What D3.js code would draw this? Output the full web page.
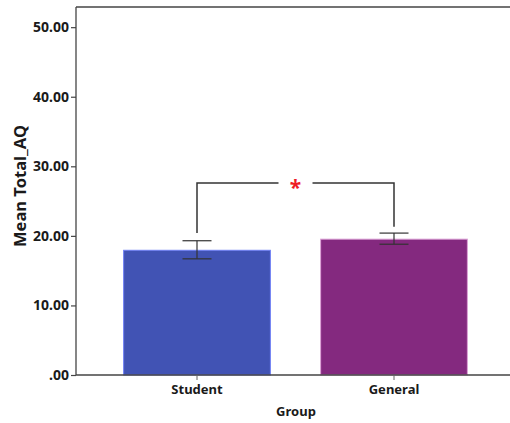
<!DOCTYPE html>
<html>
<head>
<meta charset="utf-8">
<script src="https://cdn.jsdelivr.net/npm/d3@7"></script>
<style>
  html, body { margin: 0; padding: 0; background: #fff; }
  svg { display: block; }
  text { font-family: "Noto Sans", "DejaVu Sans", sans-serif; fill: #1a1a1a; }
</style>
</head>
<body>
<svg id="chart" width="510" height="423"></svg>
<script>
// Group means of Total_AQ with error-bar half widths
const groups = ["Student", "General"];
const means = [18.0, 19.6];
const errors = [1.3, 0.8];
const barFills = ["#4153b4", "#84297f"];
const barStrokes = ["#6f80f5", "#dca2d6"];

// Y-axis tick values and their labels
const yTicks = [0, 10, 20, 30, 40, 50];
const yTickLabels = [".00", "10.00", "20.00", "30.00", "40.00", "50.00"];

// Significance bracket between the two groups
const bracketLevel = 27.6;
const bracketFeet = [20.4, 21.3];
const significanceMark = "*";

const svg = d3.select("#chart");
const plotLeft = 76, plotRight = 510, plotTop = 7, plotBottom = 375;

const y = d3.scaleLinear().domain([0, 52.9]).range([plotBottom, plotTop]);
const x = d3.scaleBand()
  .domain(groups)
  .range([98.5, 492.5])
  .paddingInner(0.25)
  .paddingOuter(0.125);

// Frame: top edge of the plot area
svg.append("line")
  .attr("x1", plotLeft).attr("x2", plotRight)
  .attr("y1", plotTop).attr("y2", plotTop)
  .attr("stroke", "#444").attr("stroke-width", 1.3);

// Bars
svg.selectAll("rect.bar")
  .data(groups)
  .join("rect")
  .attr("class", "bar")
  .attr("x", d => x(d) + 0.5)
  .attr("y", (d, i) => y(means[i]) + 0.5)
  .attr("width", x.bandwidth() - 1)
  .attr("height", (d, i) => y(0) - y(means[i]) - 0.5)
  .attr("fill", (d, i) => barFills[i])
  .attr("stroke", (d, i) => barStrokes[i])
  .attr("stroke-width", 1);

// Error bars
const capHalf = 14.5;
const eb = svg.selectAll("g.err")
  .data(groups)
  .join("g")
  .attr("class", "err")
  .attr("stroke", "#333")
  .attr("stroke-width", 1.2);
eb.append("line")
  .attr("x1", d => x(d) + x.bandwidth() / 2)
  .attr("x2", d => x(d) + x.bandwidth() / 2)
  .attr("y1", (d, i) => y(means[i] + errors[i]))
  .attr("y2", (d, i) => y(means[i] - errors[i]));
eb.append("line")
  .attr("x1", d => x(d) + x.bandwidth() / 2 - capHalf)
  .attr("x2", d => x(d) + x.bandwidth() / 2 + capHalf)
  .attr("y1", (d, i) => y(means[i] + errors[i]))
  .attr("y2", (d, i) => y(means[i] + errors[i]));
eb.append("line")
  .attr("x1", d => x(d) + x.bandwidth() / 2 - capHalf)
  .attr("x2", d => x(d) + x.bandwidth() / 2 + capHalf)
  .attr("y1", (d, i) => y(means[i] - errors[i]))
  .attr("y2", (d, i) => y(means[i] - errors[i]));

// Y axis
const yAxis = d3.axisLeft(y)
  .tickValues(yTicks)
  .tickFormat((d, i) => yTickLabels[i])
  .tickSize(5)
  .tickPadding(2);
const gy = svg.append("g")
  .attr("transform", `translate(${plotLeft},0)`)
  .call(yAxis);
gy.select(".domain").attr("d", `M0,${plotTop}V${plotBottom}`).attr("stroke", "#444").attr("stroke-width", 1.3);
gy.selectAll(".tick line").attr("stroke", "#444").attr("stroke-width", 1.2);
gy.selectAll(".tick text")
  .attr("font-family", "'Noto Sans', sans-serif")
  .attr("font-size", "14px")
  .attr("font-weight", "bold")
  .attr("fill", "#1a1a1a");

// X axis
const xAxis = d3.axisBottom(x).tickSize(5).tickPadding(5);
const gx = svg.append("g")
  .attr("transform", `translate(0,${plotBottom})`)
  .call(xAxis);
gx.select(".domain").attr("d", `M${plotLeft},0H${plotRight}`).attr("stroke", "#444").attr("stroke-width", 1.3);
gx.selectAll(".tick line").attr("stroke", "#666").attr("stroke-width", 1);
gx.selectAll(".tick text")
  .attr("font-family", "'Noto Sans', sans-serif")
  .attr("font-size", "13px")
  .attr("font-weight", "bold")
  .attr("fill", "#1a1a1a");

// Axis titles
svg.append("text")
  .attr("x", 296).attr("y", 416)
  .attr("text-anchor", "middle")
  .attr("font-size", "13px")
  .attr("font-weight", "bold")
  .text("Group");

svg.append("text")
  .attr("transform", "translate(26,186) rotate(-90)")
  .attr("text-anchor", "middle")
  .attr("font-size", "16.5px")
  .attr("font-weight", "bold")
  .text("Mean Total_AQ");

// Significance bracket
const cx = groups.map(g => x(g) + x.bandwidth() / 2);
const mid = (cx[0] + cx[1]) / 2;
const gap = 17;
const br = svg.append("g")
  .attr("fill", "none")
  .attr("stroke", "#333")
  .attr("stroke-width", 1.5);
br.append("path")
  .attr("d", `M${cx[0]},${y(bracketFeet[0])}V${y(bracketLevel)}H${mid - gap}`);
br.append("path")
  .attr("d", `M${mid + gap},${y(bracketLevel)}H${cx[1]}V${y(bracketFeet[1])}`);
svg.append("text")
  .attr("x", mid).attr("y", y(bracketLevel) + 12)
  .attr("text-anchor", "middle")
  .attr("font-size", "21px")
  .attr("font-weight", "bold")
  .style("fill", "#ee1c24")
  .text(significanceMark);
</script>
</body>
</html>
